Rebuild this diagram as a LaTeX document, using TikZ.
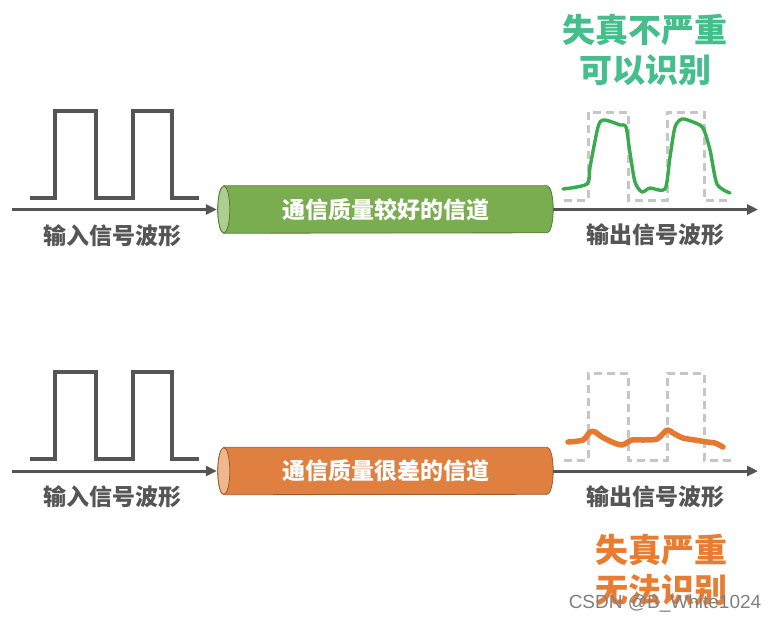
\documentclass[tikz,border=0pt]{standalone}
\usepackage{fontspec}
\setmainfont{Noto Sans CJK SC}
\newfontfamily\wmfont{Liberation Sans}
\usetikzlibrary{arrows.meta,positioning,backgrounds}

\definecolor{wavegray}{RGB}{85,85,85}
\definecolor{ghostgray}{RGB}{198,198,198}
\definecolor{goodbody}{RGB}{122,173,80}
\definecolor{goodcap}{RGB}{172,206,142}
\definecolor{goodline}{RGB}{58,170,78}
\definecolor{goodtxt}{RGB}{68,190,140}
\definecolor{badbody}{RGB}{224,128,64}
\definecolor{badcap}{RGB}{240,182,142}
\definecolor{badline}{RGB}{230,120,48}
\definecolor{badtxt}{RGB}{232,125,50}

\newcommand{\pipe}[3]{%
  \begin{pgfonlayer}{background}
    \fill[#2, draw=#2!70!black, line width=0.8pt]
      ([xshift=6pt]#1.north west) -- ([xshift=-6pt]#1.north east)
      arc[start angle=-90, end angle=90, x radius=6, y radius=23.5]
      -- ([xshift=6pt]#1.south west)
      arc[start angle=90, end angle=270, x radius=6, y radius=23.5] -- cycle;
    \filldraw[fill=#3, draw=#2!70!black, line width=0.8pt]
      ([xshift=6pt]#1.west) ellipse[x radius=6, y radius=23.5];
  \end{pgfonlayer}}

\begin{document}
\begin{tikzpicture}[
    x=1pt, y=-1pt,
    wave/.style={
        draw=wavegray,
        line width=3.2pt
    },
    ghost/.style={
        draw=ghostgray,
        line width=3pt,
        dash pattern=on 8pt off 5pt
    },
    arrow/.style={
        -{Triangle[length=11pt,width=10pt]},
        draw=wavegray,
        line width=3pt
    },
    lbl/.style={
        font=\fontsize{23}{26}\selectfont\bfseries,
        text=wavegray,
        inner sep=0pt
    },
    chan/.style={
        rectangle,
        minimum width=335pt,
        minimum height=47pt,
        inner sep=0pt,
        text=white,
        font=\fontsize{23}{26}\selectfont\bfseries
    },
    verdict/.style={
        align=center,
        inner sep=0pt,
        font=\fontsize{33}{40}\selectfont\bfseries
    }
]
\useasboundingbox (0,0) rectangle (776,622);

\node[chan] (chan1) at (385.5,209.5) {通信质量较好的信道};
\node[chan] (chan2) at (385.5,471) {通信质量很差的信道};
\pipe{chan1}{goodbody}{goodcap}
\pipe{chan2}{badbody}{badcap}

\coordinate (s1) at (12,209.5);
\coordinate (o1) at (758,209.5);
\coordinate (s2) at (12,471);
\coordinate (o2) at (758,471);

\draw[wave] (30,198) -- (55,198) -- (55,111) -- (96,111) -- (96,198) -- (133,198)
    -- (133,111) -- (172,111) -- (172,198) -- (199,198);
\draw[wave] (30,459) -- (55,459) -- (55,372) -- (96,372) -- (96,459) -- (133,459)
    -- (133,372) -- (172,372) -- (172,459) -- (199,459);

\draw[ghost] (564,200) -- (588,200) -- (588,112) -- (628,112) -- (628,200) -- (667,200)
    -- (667,112) -- (704,112) -- (704,200) -- (732,200);
\draw[ghost] (564,460) -- (588,460) -- (588,373) -- (628,373) -- (628,460) -- (667,460)
    -- (667,373) -- (704,373) -- (704,460) -- (732,460);

\draw[goodline, line width=3.4pt, line join=round, line cap=round]
    plot[smooth, tension=0.45] coordinates {(563,189) (587,184) (590,167) (598,127) (603,120)
    (612,122) (620,125) (626,127) (630,153) (635,182) (642,192) (650,188) (665,189)
    (670,157) (675,127) (682,119) (693,122) (703,128) (710,150) (717,184) (730,193)};
\draw[badline, line width=5.5pt, line join=round, line cap=round]
    plot[smooth, tension=0.45] coordinates {(568,442) (583,440) (590,432) (595,432) (602,437)
    (612,442) (622,445) (632,440) (643,440) (657,439) (667,430) (673,433) (683,438)
    (695,440) (707,442) (715,443) (723,447)};

\draw[arrow, shorten >=1pt] (s1) -- (chan1.west);
\draw[arrow] (chan1.east) -- (o1);
\draw[arrow, shorten >=1pt] (s2) -- (chan2.west);
\draw[arrow] (chan2.east) -- (o2);

\node[lbl] (in1) at (112,236) {输入信号波形};
\node[lbl] (out1) at (655,235) {输出信号波形};
\node[lbl] (in2) at (112,497) {输入信号波形};
\node[lbl] (out2) at (655,497) {输出信号波形};

\node[verdict, text=goodtxt] (v1) at (645,50) {失真不严重\\可以识别};
\node[verdict, text=badtxt] (v2) at (661,570) {失真严重\\无法识别};

\node[text=gray, font=\wmfont\fontsize{19}{20}\selectfont, inner sep=0pt] (mark) at (665,603) {CSDN @B\_White1024};

\end{tikzpicture}
\end{document}
